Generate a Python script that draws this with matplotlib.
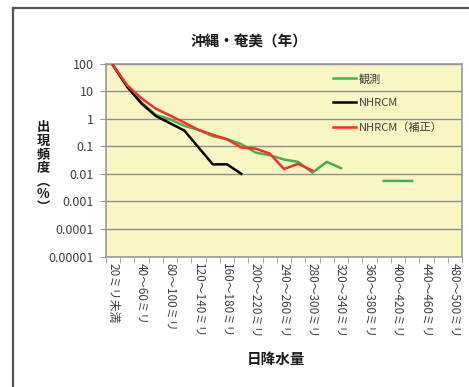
import numpy as np
import matplotlib
matplotlib.use("Agg")
import matplotlib.pyplot as plt
from matplotlib.lines import Line2D

plt.rcParams['font.family'] = ['Noto Sans CJK JP', 'DejaVu Sans']

# Daily precipitation bins (20 mm steps); every other bin is labelled
bins = ["20ミリ未満"] + [f"{lo}～{lo + 20}ミリ" for lo in range(20, 500, 20)]
tick_labels = [b if i % 2 == 0 else "" for i, b in enumerate(bins)]

nan = np.nan
# Occurrence frequency (%) per bin
observed = [85, 14, 3.8, 1.35, 0.95, 0.55, 0.39, 0.23, 0.18, 0.12,
            0.059, 0.047, 0.033, 0.027, 0.011, 0.027, 0.016, nan, nan,
            0.0055, 0.0055, 0.0055, nan, nan, nan]
nhrcm = [85, 14, 3.5, 1.25, 0.68, 0.37, 0.09, 0.022, 0.022, 0.01,
         nan, nan, nan, nan, nan, nan, nan, nan, nan,
         nan, nan, nan, nan, nan, nan]
nhrcm_corr = [85, 16, 5.4, 2.3, 1.3, 0.72, 0.39, 0.26, 0.18, 0.09,
              0.082, 0.054, 0.015, 0.023, 0.013, nan, nan, nan, nan,
              nan, nan, nan, nan, nan, nan]

W, H = 469, 387
fig = plt.figure(figsize=(W / 100, H / 100), dpi=100)
fig.patch.set_facecolor('white')

left, right, top, bottom = 106, 462, 63.5, 256.5
ax = fig.add_axes([left / W, 1 - bottom / H, (right - left) / W, (bottom - top) / H])
ax.set_facecolor('#F8F6C3')

x = np.arange(len(bins))
ax.plot(x, observed, color='#3DB54A', lw=1.8, label='観測', zorder=3)
ax.plot(x, nhrcm, color='black', lw=1.8, label='NHRCM', zorder=3)
ax.plot(x, nhrcm_corr, color='#FF2A2A', lw=1.8, label='NHRCM（補正）', zorder=4)

ax.set_yscale('log')
ax.set_ylim(1e-5, 100)
ax.set_xlim(-0.5, len(bins) - 0.5)

yticks = [1e-5, 1e-4, 1e-3, 1e-2, 1e-1, 1, 10, 100]
ylabels = ["0.00001", "0.0001", "0.001", "0.01", "0.1", "1", "10", "100"]
ax.set_yticks(yticks)
ax.set_yticklabels(ylabels)
ax.yaxis.set_minor_locator(matplotlib.ticker.NullLocator())
ax.grid(axis='y', which='major', color='#8E8E8E', lw=1.0, zorder=1)
ax.set_axisbelow(True)

ax.set_xticks(x)
ax.set_xticklabels(tick_labels, rotation=270, ha='center', va='top')
ax.set_xticks(np.arange(-0.5, len(bins), 1), minor=True)
ax.tick_params(axis='x', which='major', length=0, pad=5, labelsize=8.5, labelcolor='#404040')
ax.tick_params(axis='x', which='minor', length=4, color='#9A9A9A', direction='out')
ax.tick_params(axis='y', which='major', length=4, color='#9A9A9A', pad=5,
               labelsize=9, labelcolor='#404040')

for s in ax.spines.values():
    s.set_color('#9A9A9A')
    s.set_linewidth(1.2)

leg = ax.legend(loc='upper left', bbox_to_anchor=((323 - left) / (right - left), 1.0),
                frameon=False, fontsize=8, handlelength=2.1, handletextpad=0.2,
                labelspacing=1.25, borderaxespad=0.5)
for t in leg.get_texts():
    t.set_color('#404040')

fig.text(249 / W, 1 - 41.5 / H, "沖縄・奄美（年）", ha='center', va='center',
         fontsize=10.5, fontweight='bold', color='#1A1A1A')
fig.text(276 / W, 1 - 358.5 / H, "日降水量", ha='center', va='center',
         fontsize=10.5, fontweight='bold', color='#1A1A1A')

ylab_chars = ["出", "現", "頻", "度", "︵", "%", "︶"]
for k, ch in enumerate(ylab_chars):
    fig.text(43 / W, 1 - (127.5 + 13.3 * k) / H, ch, ha='center', va='center',
             fontsize=9.5, fontweight='bold', color='#1A1A1A')

# outer frame (top and left edges)
fig.add_artist(Line2D([13 / W, 1.0], [1 - 8 / H, 1 - 8 / H], transform=fig.transFigure,
                      color='#555555', lw=1.6))
fig.add_artist(Line2D([13 / W, 13 / W], [1 - 8 / H, 0.0], transform=fig.transFigure,
                      color='#555555', lw=1.6))

fig.savefig("out.png", dpi=100)
